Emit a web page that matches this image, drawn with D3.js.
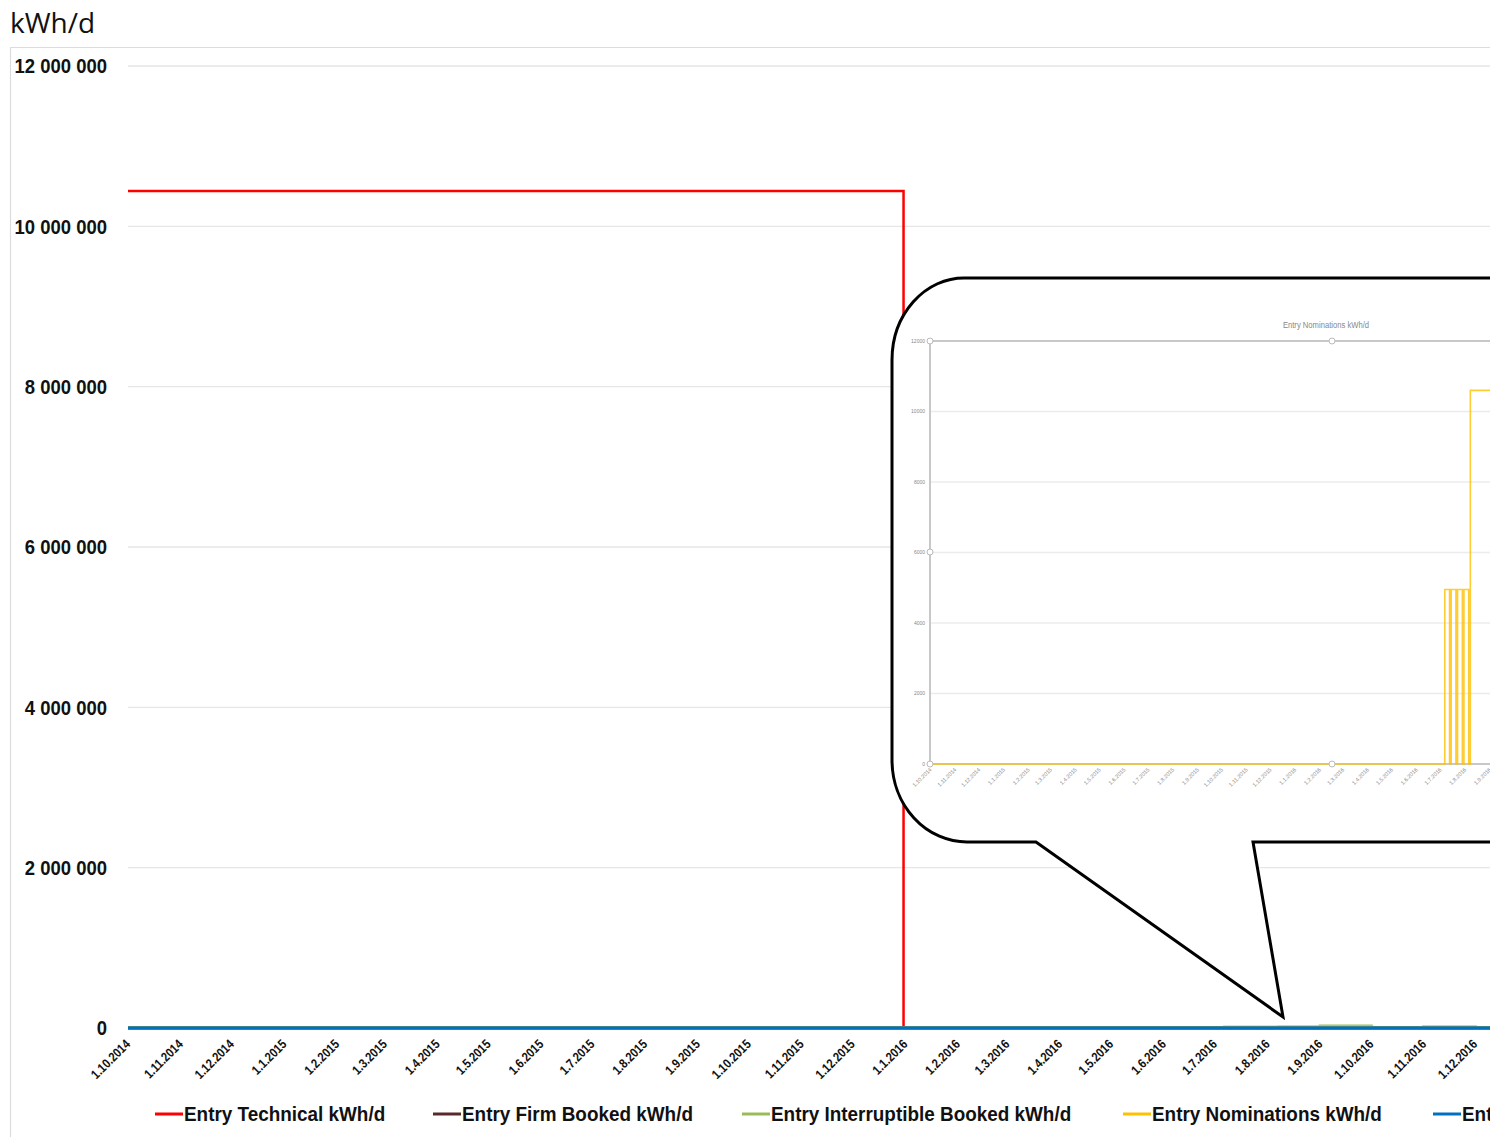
<!DOCTYPE html>
<html>
<head>
    <title>Entry kWh/d</title>
    <style>
        body { margin: 0; background: #fff; overflow: hidden; }
        svg { display: block; }
        .tick-main { font-family: 'Liberation Sans', Arial, sans-serif; font-weight: bold; fill: #111; }
        .inset-text { font-family: 'Liberation Sans', Arial, sans-serif; fill: #888; }
    </style>
    <script src="https://d3js.org/d3.v7.min.js"></script>
</head>
<body>
    <div id="chart"></div>
    <script>
        // monthly tick labels (d.m.yyyy), as on the axis
        const months = ["1.10.2014", "1.11.2014", "1.12.2014", "1.1.2015", "1.2.2015", "1.3.2015",
            "1.4.2015", "1.5.2015", "1.6.2015", "1.7.2015", "1.8.2015", "1.9.2015", "1.10.2015",
            "1.11.2015", "1.12.2015", "1.1.2016", "1.2.2016", "1.3.2016", "1.4.2016", "1.5.2016",
            "1.6.2016", "1.7.2016", "1.8.2016", "1.9.2016", "1.10.2016", "1.11.2016", "1.12.2016"];
        const yTicks = [0, 2000000, 4000000, 6000000, 8000000, 10000000, 12000000];
        const insetYTicks = [0, 2000, 4000, 6000, 8000, 10000, 12000];

        const seriesNames = ["Entry Technical kWh/d", "Entry Firm Booked kWh/d",
            "Entry Interruptible Booked kWh/d", "Entry Nominations kWh/d", "Entry Allocations kWh/d"];
        const seriesColors = ["#ff0000", "#5a2a2a", "#9bbb59", "#ffc000", "#0070c0"];

        // step series: value holds from its date until the next change
        const technicalDates = ["2014-10-01", "2015-12-31", "2016-12-31"];
        const technicalValues = [10440000, 0, 0];
        const firmDates = ["2014-10-01", "2016-12-31"];
        const firmValues = [0, 0];
        const interruptDates = ["2014-10-01", "2016-09-01", "2016-10-01", "2016-12-31"];
        const interruptValues = [0, 24000, 0, 0];
        const nominationDates = ["2014-10-01", "2016-07-07", "2016-07-13", "2016-07-15", "2016-07-21",
            "2016-07-23", "2016-07-29", "2016-07-31", "2016-08-06", "2016-08-08", "2016-10-01",
            "2016-11-01", "2016-12-01", "2016-12-31"];
        const nominationValues = [0, 4950, 0, 4950, 0, 4950, 0, 4950, 0, 10600, 0, 10600, 0, 0];
        const allocationDates = ["2014-10-01", "2016-12-31"];
        const allocationValues = [0, 0];

        const W = 1490, H = 1137;
        const parse = d3.timeParse("%Y-%m-%d");
        const parseTick = d3.timeParse("%d.%m.%Y");
        const zip = (ds, vs) => ds.map((d, i) => ({date: parse(d), value: vs[i]}));

        const series = [
            zip(technicalDates, technicalValues),
            zip(firmDates, firmValues),
            zip(interruptDates, interruptValues),
            zip(nominationDates, nominationValues),
            zip(allocationDates, allocationValues)
        ];

        const svg = d3.select("#chart").append("svg")
            .attr("width", W)
            .attr("height", H);

        // chart frame
        svg.append("path")
            .attr("d", `M${W + 5},47.5 H10.5 V${H + 5}`)
            .attr("fill", "none")
            .attr("stroke", "#dcdcdc")
            .attr("stroke-width", 1.2);

        svg.append("text")
            .attr("x", 10)
            .attr("y", 33)
            .style("font-family", "'Open Sans', sans-serif")
            .style("font-size", "28px")
            .attr("fill", "#111")
            .text("kWh/d");

        const x = d3.scaleTime()
            .domain([parseTick(months[0]), parseTick(months[months.length - 1])])
            .range([128, 1475]);
        const y = d3.scaleLinear()
            .domain([0, 12000000])
            .range([1028, 66]);

        // gridlines
        svg.append("g")
            .selectAll("line")
            .data(yTicks)
            .enter().append("line")
            .attr("x1", 128).attr("x2", W + 10)
            .attr("y1", d => y(d)).attr("y2", d => y(d))
            .attr("stroke", "#e6e6e6")
            .attr("stroke-width", 1.3);

        // y labels (squeezed to look like a condensed bold face)
        svg.append("g")
            .selectAll("text")
            .data(yTicks)
            .enter().append("text")
            .attr("class", "tick-main")
            .attr("transform", d => `translate(107,${y(d)}) scale(0.88,1)`)
            .attr("dy", "0.35em")
            .attr("text-anchor", "end")
            .style("font-size", "21px")
            .text(d => d3.format(",")(d).replace(/,/g, " "));

        // x labels
        svg.append("g")
            .selectAll("text")
            .data(months)
            .enter().append("text")
            .attr("class", "tick-main")
            .attr("transform", d => `translate(${x(parseTick(d)) + 3},1045) rotate(-45) scale(0.85,1)`)
            .attr("text-anchor", "end")
            .style("font-size", "13px")
            .text(d => d);

        const line = d3.line()
            .curve(d3.curveStepAfter)
            .x(d => x(d.date))
            .y(d => y(d.value));

        const widths = [2.5, 2.5, 3, 4, 3.5];
        svg.append("g")
            .selectAll("path")
            .data(series)
            .enter().append("path")
            .attr("d", line)
            .attr("fill", "none")
            .attr("stroke", (d, i) => seriesColors[i])
            .attr("stroke-width", (d, i) => widths[i]);

        // legend
        const legendX = [155, 433, 742, 1123, 1433];
        const legend = svg.append("g")
            .selectAll("g")
            .data(seriesNames)
            .enter().append("g")
            .attr("transform", (d, i) => `translate(${legendX[i]},1114)`);
        legend.append("line")
            .attr("x1", 0).attr("x2", 28)
            .attr("stroke", (d, i) => seriesColors[i])
            .attr("stroke-width", 3);
        legend.append("text")
            .attr("class", "tick-main")
            .attr("transform", "translate(29,0) scale(0.9,1)")
            .attr("dy", "0.35em")
            .style("font-size", "21px")
            .text(d => d);

        // callout bubble
        svg.append("path")
            .attr("d", `M${W + 20},278 H964 A72,82 0 0 0 892,360 V760 A75,82 0 0 0 967,842
                H1036 L1283,1017 L1253,842 H${W + 20}`)
            .attr("fill", "#fff")
            .attr("stroke", "#000")
            .attr("stroke-width", 3)
            .attr("stroke-linejoin", "miter");

        // inset: nominations close-up
        const inset = svg.append("g");
        const ix = d3.scaleTime()
            .domain([parseTick(months[0]), parseTick("1.7.2016")])
            .range([930, 1440]);
        const iy = d3.scaleLinear()
            .domain([0, 12000])
            .range([764, 341]);

        inset.append("text")
            .attr("class", "inset-text")
            .attr("transform", "translate(1326,328) scale(0.85,1)")
            .attr("text-anchor", "middle")
            .style("font-size", "9px")
            .attr("fill", "#777")
            .text("Entry Nominations kWh/d");

        inset.append("g")
            .selectAll("line")
            .data(insetYTicks.slice(1, -1))
            .enter().append("line")
            .attr("x1", 930).attr("x2", W + 10)
            .attr("y1", d => iy(d)).attr("y2", d => iy(d))
            .attr("stroke", "#ececec")
            .attr("stroke-width", 1.3);

        inset.append("g")
            .selectAll("text")
            .data(insetYTicks)
            .enter().append("text")
            .attr("class", "inset-text")
            .attr("x", 925)
            .attr("y", d => iy(d))
            .attr("dy", "0.35em")
            .attr("text-anchor", "end")
            .style("font-size", "5px")
            .text(d => d);

        inset.append("g")
            .selectAll("text")
            .data(months)
            .enter().append("text")
            .attr("class", "inset-text")
            .attr("transform", d => `translate(${ix(parseTick(d)) + 2},770) rotate(-45)`)
            .attr("text-anchor", "end")
            .style("font-size", "5.5px")
            .text(d => d);

        // selection frame of the pasted chart
        inset.append("path")
            .attr("d", `M${W + 20},341 H930 V764 H${W + 20}`)
            .attr("fill", "none")
            .attr("stroke", "#c8c8c8")
            .attr("stroke-width", 2);

        const insetLine = d3.line()
            .curve(d3.curveStepAfter)
            .x(d => ix(d.date))
            .y(d => iy(d.value));
        inset.append("path")
            .datum(series[3])
            .attr("d", insetLine)
            .attr("fill", "none")
            .attr("stroke", "#ffc000")
            .attr("stroke-opacity", 0.8)
            .attr("stroke-width", 1.6);

        const handles = [[930, 341], [1332, 341], [930, 552], [930, 764], [1332, 764]];
        inset.append("g")
            .selectAll("circle")
            .data(handles)
            .enter().append("circle")
            .attr("cx", d => d[0]).attr("cy", d => d[1])
            .attr("r", 3)
            .attr("fill", "#fff")
            .attr("stroke", "#bbb")
            .attr("stroke-width", 1);
    </script>
</body>
</html>
